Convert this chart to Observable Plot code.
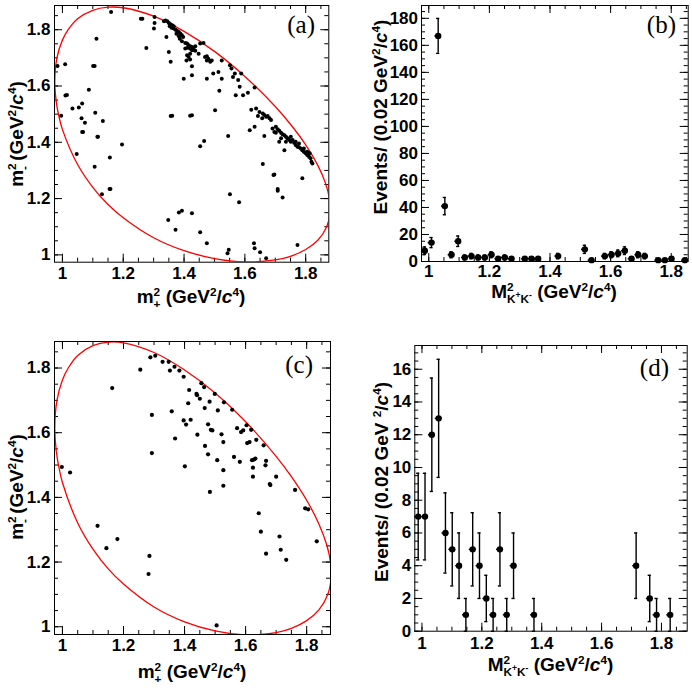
<!DOCTYPE html>
<html><head><meta charset="utf-8">
<script src="https://cdn.jsdelivr.net/npm/d3@7"></script>
<script src="https://cdn.jsdelivr.net/npm/@observablehq/plot@0.6"></script>
<style>
html,body{margin:0;padding:0;background:#fff;}
#wrap{position:relative;width:692px;height:692px;overflow:hidden;background:#fff;}
#wrap svg{position:absolute;overflow:visible;}
</style></head><body><div id="wrap"></div>
<script>
// ---------- DATA ----------
// Dalitz-plot kinematic boundary [m2plus, m2minus] (GeV^2/c^4)
const dalitzBoundary = [
 [0.975,1.617],[0.982,1.700],[1.000,1.763],[1.019,1.800],[1.050,1.839],[1.100,1.869],[1.150,1.880],[1.200,1.878],
 [1.300,1.848],[1.400,1.794],[1.500,1.723],[1.600,1.634],[1.700,1.527],[1.750,1.464],[1.800,1.391],[1.840,1.318],
 [1.865,1.255],[1.878,1.200],[1.880,1.150],[1.869,1.100],[1.840,1.052],[1.800,1.019],[1.750,0.995],[1.700,0.982],
 [1.600,0.975],[1.500,0.987],[1.400,1.015],[1.300,1.061],[1.200,1.132],[1.150,1.179],[1.100,1.240],[1.050,1.321],
 [1.000,1.446],[0.987,1.500],[0.980,1.542]
];
// panel (a) events [m2plus, m2minus]
const eventsA = [
 [0.984,1.671],[1.009,1.677],[0.996,1.494],[1.010,1.566],[1.015,1.568],[1.033,1.520],[1.054,1.524],[1.065,1.538],
 [1.063,1.485],[1.065,1.437],[1.068,1.437],[1.074,1.469],[1.047,1.358],[1.087,1.587],[1.101,1.671],[1.106,1.671],
 [1.112,1.768],[1.108,1.505],[1.115,1.420],[1.117,1.420],[1.106,1.313],[1.133,1.476],[1.130,1.215],[1.155,1.234],
 [1.158,1.234],[1.156,1.346],[1.160,1.863],[1.196,1.392],
 [1.258,1.839],[1.263,1.839],[1.276,1.735],[1.303,1.845],[1.303,1.824],[1.301,1.804],
 [1.339,1.833],[1.345,1.830],[1.350,1.824],[1.355,1.819],[1.361,1.816],[1.366,1.812],[1.359,1.807],[1.366,1.804],
 [1.372,1.800],[1.377,1.796],[1.383,1.792],[1.388,1.786],[1.393,1.780],[1.383,1.777],[1.397,1.774],[1.386,1.768],
 [1.334,1.830],[1.353,1.812],[1.375,1.786],
 [1.393,1.759],[1.404,1.753],[1.410,1.751],[1.415,1.745],[1.420,1.741],[1.426,1.739],[1.431,1.736],[1.420,1.733],
 [1.431,1.729],[1.437,1.741],[1.412,1.736],[1.426,1.727],[1.437,1.725],[1.404,1.733],
 [1.342,1.774],[1.350,1.721],[1.356,1.686],[1.453,1.751],[1.464,1.753],
 [1.448,1.715],[1.420,1.715],[1.410,1.709],[1.415,1.703],[1.408,1.691],[1.420,1.694],[1.426,1.670],
 [1.469,1.703],[1.475,1.691],[1.480,1.697],[1.486,1.686],[1.491,1.691],[1.475,1.706],
 [1.399,1.626],[1.426,1.638],[1.475,1.626],[1.496,1.644],[1.513,1.650],[1.524,1.691],
 [1.551,1.674],[1.556,1.662],[1.567,1.644],[1.561,1.632],[1.578,1.621],[1.588,1.644],[1.524,1.626],
 [1.516,1.583],[1.583,1.597],[1.570,1.567],[1.594,1.567],[1.610,1.576],[1.632,1.595],
 [1.502,1.514],[1.426,1.496],[1.420,1.494],[1.356,1.493],[1.361,1.494],[1.621,1.516],[1.637,1.520],
 [1.648,1.508],[1.659,1.502],[1.664,1.497],[1.670,1.491],[1.675,1.493],[1.657,1.485],[1.681,1.485],[1.686,1.479],[1.643,1.493],
 [1.616,1.443],[1.632,1.455],[1.664,1.422],[1.545,1.422],[1.453,1.386],[1.466,1.405],
 [1.691,1.449],[1.697,1.437],[1.702,1.455],[1.708,1.446],[1.713,1.441],[1.719,1.434],[1.724,1.429],[1.730,1.425],
 [1.735,1.420],[1.740,1.414],[1.746,1.408],[1.751,1.402],[1.757,1.408],[1.762,1.398],[1.767,1.390],[1.773,1.384],
 [1.778,1.382],[1.784,1.378],[1.789,1.372],[1.794,1.366],[1.800,1.361],[1.805,1.355],[1.811,1.349],[1.816,1.343],
 [1.819,1.331],[1.822,1.325],[1.702,1.434],[1.719,1.414],[1.735,1.402],[1.713,1.402],[1.751,1.420],[1.767,1.402],
 [1.778,1.396],[1.794,1.378],[1.805,1.366],[1.813,1.361],[1.730,1.372],[1.659,1.323],
 [1.348,1.124],[1.372,1.089],[1.383,1.151],[1.393,1.157],[1.426,1.148],[1.453,1.080],[1.475,1.041],[1.551,1.215],
 [1.543,1.006],[1.547,1.018],[1.581,1.187],[1.630,1.041],[1.632,1.024],[1.650,1.009],[1.670,0.988],[1.694,1.284],
 [1.697,1.286],[1.708,1.234],[1.708,1.228],[1.724,1.204],[1.773,1.035],[1.789,1.272]
];
// panel (c) events [m2plus, m2minus]
const eventsC = [
 [0.998,1.494],[1.025,1.477],[1.115,1.312],[1.144,1.243],[1.180,1.271],[1.163,1.738],[1.255,1.795],[1.285,1.219],
 [1.282,1.163],[1.293,1.655],[1.293,1.537],[1.288,1.833],[1.304,1.838],[1.328,1.819],[1.348,1.819],[1.352,1.792],
 [1.367,1.804],[1.383,1.792],[1.397,1.773],[1.358,1.666],[1.369,1.582],[1.397,1.638],[1.405,1.625],[1.412,1.691],
 [1.415,1.732],[1.420,1.640],[1.401,1.496],[1.439,1.720],[1.441,1.716],[1.442,1.594],[1.450,1.705],[1.455,1.753],
 [1.464,1.741],[1.466,1.676],[1.467,1.559],[1.477,1.626],[1.477,1.533],[1.482,1.696],[1.486,1.609],[1.491,1.607],
 [1.483,1.417],[1.499,1.720],[1.509,1.669],[1.507,1.515],[1.521,1.595],[1.529,1.694],[1.527,1.571],[1.527,1.484],
 [1.527,1.436],[1.556,1.671],[1.562,1.525],[1.572,1.614],[1.581,1.510],[1.585,1.602],[1.592,1.607],[1.603,1.623],
 [1.605,1.568],[1.613,1.571],[1.618,1.609],[1.621,1.515],[1.627,1.517],[1.632,1.520],[1.624,1.492],[1.624,1.464],
 [1.635,1.578],[1.643,1.351],[1.650,1.294],[1.659,1.561],[1.665,1.499],[1.667,1.513],[1.667,1.226],[1.679,1.441],
 [1.681,1.438],[1.700,1.464],[1.711,1.279],[1.715,1.238],[1.733,1.207],[1.762,1.423],[1.795,1.366],[1.805,1.363],
 [1.833,1.264],[1.505,1.004]
];
// panel (b) histogram: 40 bins from 0.976 to 1.856
const binsB = {lo: 0.976, width: 0.022};
const countsB = [8,14,167,41,5,15,3,4,3,3,5,2,3,2,0,2,2,2,0,0,4,0,0,0,9,1,0,4,5,6,8,2,5,4,0,1,1,2,0,1];
// panel (d) histogram: 40 bins from 0.976 to 1.886
const binsD = {lo: 0.976, width: 0.02275};
const countsD = [7,7,12,13,6,5,4,1,5,4,2,1,5,1,4,0,0,1,0,0,0,0,0,0,0,0,0,0,0,0,0,0,4,0,2,1,0,1,0,0];
// tick labels
const massTicks = [1, 1.2, 1.4, 1.6, 1.8];
const eventTicksB = [0,20,40,60,80,100,120,140,160,180];
const eventTicksD = [0,2,4,6,8,10,12,14,16];

// ---------- HELPERS ----------
const wrap = document.getElementById("wrap");
const SANS = "'Liberation Sans', Arial, Helvetica, sans-serif";
const SERIF = "'Liberation Serif', 'Times New Roman', serif";
const fmt = d => String(d);
function steps(lo, hi, step) {
  const a = Math.ceil(lo / step - 1e-9), b = Math.floor(hi / step + 1e-9);
  return d3.range(a, b + 1).map(i => +(i * step).toFixed(6));
}
function tickMarks(xd, yd, iw, ih, xMaj, xMin, yMaj, yMin) {
  const vy = L => L * (yd[1] - yd[0]) / ih;
  const vx = L => L * (xd[1] - xd[0]) / iw;
  const o = {stroke: "black", strokeWidth: 1};
  const big = 8, small = 4;
  return [
    Plot.ruleX(xMaj, {x: d => d, y1: yd[0], y2: yd[0] + vy(big), ...o}),
    Plot.ruleX(xMaj, {x: d => d, y1: yd[1], y2: yd[1] - vy(big), ...o}),
    Plot.ruleX(xMin, {x: d => d, y1: yd[0], y2: yd[0] + vy(small), ...o}),
    Plot.ruleX(xMin, {x: d => d, y1: yd[1], y2: yd[1] - vy(small), ...o}),
    Plot.ruleY(yMaj, {y: d => d, x1: xd[0], x2: xd[0] + vx(big), ...o}),
    Plot.ruleY(yMaj, {y: d => d, x1: xd[1], x2: xd[1] - vx(big), ...o}),
    Plot.ruleY(yMin, {y: d => d, x1: xd[0], x2: xd[0] + vx(small), ...o}),
    Plot.ruleY(yMin, {y: d => d, x1: xd[1], x2: xd[1] - vx(small), ...o})
  ];
}
function addText(svg, {x, y, rotate = 0, anchor = "middle", size = 19, family = SANS, weight = "bold", parts}) {
  const t = d3.select(svg).append("text")
    .attr("transform", `translate(${x},${y}) rotate(${rotate})`)
    .attr("text-anchor", anchor).attr("font-family", family)
    .attr("font-weight", weight).attr("font-size", size)
    .attr("fill", "black").style("white-space", "pre");
  let cur = 0;
  for (const p of parts) {
    const [txt, shift = 0, scale = 1, dx = 0, italic = false] = p;
    const s = t.append("tspan").attr("dy", shift - cur).attr("font-size", size * scale);
    if (dx) s.attr("dx", dx);
    if (italic) s.attr("font-style", "italic");
    s.text(txt);
    cur = shift;
  }
}
function place(svg, left, top) {
  svg.style.left = left + "px"; svg.style.top = top + "px";
  wrap.appendChild(svg);
}
const baseStyle = {fontFamily: SANS, fontSize: "17px", fontWeight: "bold", background: "transparent", color: "black", overflow: "visible"};

const mTitle = sign => [["m"],["2",-7,0.62],[sign,5,0.62,-6.6],[" (GeV"],["2",-7,0.62],["/"],["c",0,1,0,true],["4",-7,0.62],[")"]];
const MKKTitle = [["M"],["2",-7,0.62],["K",5,0.62,-6.6],["+",0,0.45],["K",5,0.62],["-",0,0.45],[" (GeV"],["2",-7,0.62],["/"],["c",0,1,0,true],["4",-7,0.62],[")"]];
const evTitle = gev => [[gev],["2",-7,0.62],["/"],["c",0,1,0,true],["4",-7,0.62],[")"]];

function scatterPanel({events, xd, yd, width, height, ml, mr, mt, mb, xPad, yPad, r}) {
  const iw = width - ml - mr, ih = height - mt - mb;
  return Plot.plot({
    width, height, marginLeft: ml, marginRight: mr, marginTop: mt, marginBottom: mb,
    style: baseStyle,
    x: {domain: xd, ticks: massTicks, tickSize: 0, tickPadding: xPad, tickFormat: fmt, label: null},
    y: {domain: yd, ticks: massTicks, tickSize: 0, tickPadding: yPad, tickFormat: fmt, label: null},
    marks: [
      ...tickMarks(xd, yd, iw, ih, massTicks, steps(xd[0], xd[1], 0.05), massTicks, steps(yd[0], yd[1], 0.05)),
      Plot.line(dalitzBoundary, {x: d => d[0], y: d => d[1], stroke: "#ff0000", strokeWidth: 1.3, curve: "catmull-rom-closed", clip: true}),
      Plot.dot(events, {x: d => d[0], y: d => d[1], r, fill: "black", stroke: "none"}),
      Plot.frame({stroke: "black", strokeWidth: 1})
    ]
  });
}
function histPanel({counts, bins, yd, yTicks, yMinor, width, height, ml, mr, mt, mb, xPad, yPad}) {
  const xd = [bins.lo, bins.lo + bins.width * counts.length];
  const iw = width - ml - mr, ih = height - mt - mb;
  const data = counts.map((n, i) => ({x: bins.lo + (i + 0.5) * bins.width, n, e: Math.sqrt(n)})).filter(d => d.n > 0);
  const cap = 1.6 * (xd[1] - xd[0]) / iw;
  const hw = bins.width / 2;
  const o = {stroke: "black", strokeWidth: 1.4};
  return Plot.plot({
    width, height, marginLeft: ml, marginRight: mr, marginTop: mt, marginBottom: mb,
    style: baseStyle,
    x: {domain: xd, ticks: massTicks, tickSize: 0, tickPadding: xPad, tickFormat: fmt, label: null},
    y: {domain: yd, ticks: yTicks, tickSize: 0, tickPadding: yPad, tickFormat: fmt, label: null},
    marks: [
      ...tickMarks(xd, yd, iw, ih, massTicks, steps(xd[0], xd[1], 0.05), yTicks, steps(yd[0], yd[1], yMinor)),
      Plot.ruleX(data, {x: "x", y1: d => d.n - d.e, y2: d => d.n + d.e, ...o}),
      Plot.ruleY(data, {y: d => d.n + d.e, x1: d => d.x - cap, x2: d => d.x + cap, ...o}),
      Plot.ruleY(data, {y: d => d.n - d.e, x1: d => d.x - cap, x2: d => d.x + cap, ...o}),
      Plot.ruleY(data, {y: "n", x1: d => d.x - hw, x2: d => d.x + hw, ...o}),
      Plot.dot(data, {x: "x", y: "n", r: 3.2, fill: "black", stroke: "none"}),
      Plot.frame({stroke: "black", strokeWidth: 1})
    ]
  });
}

// ---------- PANEL (a) ----------
const svgA = scatterPanel({events: eventsA, xd: [0.974, 1.876], yd: [0.974, 1.886],
  width: 346, height: 330, ml: 54, mr: 17.7, mt: 5, mb: 68.3, xPad: 5, yPad: 4, r: 2.0});
place(svgA, 0, 0);
addText(svgA, {x: 191, y: 303, parts: mTitle("+")});
addText(svgA, {x: 23, y: 134, rotate: -90, parts: mTitle("-")});
addText(svgA, {x: 315, y: 33, anchor: "end", size: 25, family: SERIF, weight: "normal", parts: [["(a)"]]});

// ---------- PANEL (b) ----------
const svgB = histPanel({counts: countsB, bins: binsB, yd: [0, 189.5], yTicks: eventTicksB, yMinor: 5,
  width: 346, height: 330, ml: 75, mr: 4.3, mt: 5, mb: 69, xPad: 3, yPad: 3.5});
place(svgB, 346, 0);
addText(svgB, {x: 208, y: 298, parts: MKKTitle});
addText(svgB, {x: 41, y: 117, rotate: -90, parts: evTitle("Events/ (0.02 GeV")});
addText(svgB, {x: 330, y: 33, anchor: "end", size: 25, family: SERIF, weight: "normal", parts: [["(b)"]]});

// ---------- PANEL (c) ----------
const svgC = scatterPanel({events: eventsC, xd: [0.974, 1.878], yd: [0.976, 1.882],
  width: 346, height: 362, ml: 54, mr: 16, mt: 11, mb: 58, xPad: 4, yPad: 4, r: 2.1});
place(svgC, 0, 330);
addText(svgC, {x: 192, y: 348, parts: mTitle("+")});
addText(svgC, {x: 23, y: 157, rotate: -90, parts: mTitle("-")});
addText(svgC, {x: 313, y: 43, anchor: "end", size: 25, family: SERIF, weight: "normal", parts: [["(c)"]]});

// ---------- PANEL (d) ----------
const svgD = histPanel({counts: countsD, bins: binsD, yd: [0, 17.45], yTicks: eventTicksD, yMinor: 0.5,
  width: 346, height: 362, ml: 68.3, mr: 5.3, mt: 15, mb: 61.3, xPad: 6, yPad: 3.5});
place(svgD, 346, 330);
addText(svgD, {x: 204.5, y: 341, parts: MKKTitle});
addText(svgD, {x: 42, y: 152, rotate: -90, parts: evTitle("Events/ (0.02 GeV ")});
addText(svgD, {x: 323, y: 46, anchor: "end", size: 25, family: SERIF, weight: "normal", parts: [["(d)"]]});
</script>
</body></html>
